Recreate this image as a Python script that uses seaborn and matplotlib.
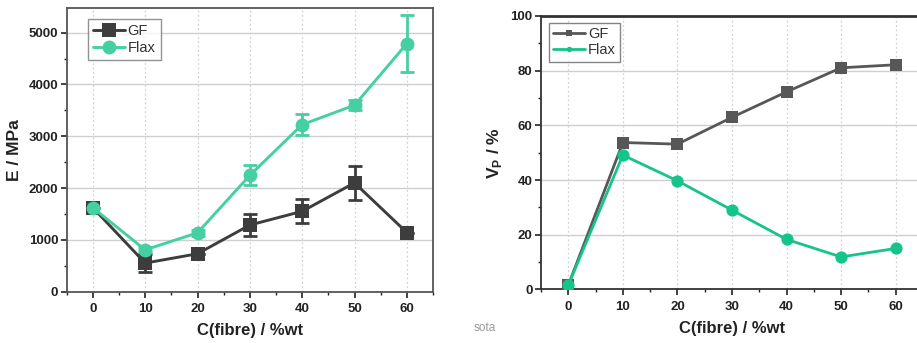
import matplotlib
matplotlib.use("Agg")
import matplotlib.pyplot as plt
from matplotlib.ticker import MultipleLocator
import seaborn as sns
import pandas as pd

# Fibre content (wt %)
fibre = [0, 10, 20, 30, 40, 50, 60]

# Young's modulus (MPa) and standard deviation
e_gf = [1620, 550, 730, 1285, 1550, 2100, 1140]
e_gf_err = [0, 170, 0, 205, 235, 325, 0]
e_flax = [1620, 805, 1135, 2245, 3225, 3600, 4790]
e_flax_err = [0, 50, 60, 195, 205, 100, 550]

# Porosity V_P (%)
vp_gf = [1.6, 53.7, 53.1, 62.9, 72.2, 81.0, 82.1]
vp_flax = [1.6, 49.1, 39.7, 29.0, 18.3, 11.9, 15.0]

series_names = ["GF", "Flax"]

sns.set_theme(style="white")
plt.rcParams["font.family"] = ["Liberation Sans", "DejaVu Sans"]

fig = plt.figure(figsize=(9.17, 3.43), dpi=100)
ax1 = fig.add_axes([0.0727, 0.150, 0.3995, 0.827])
ax2 = fig.add_axes([0.590, 0.156, 0.4165, 0.798])

def style_axes(ax, spine_col, spine_w):
    ax.set_facecolor("white")
    for s in ax.spines.values():
        s.set_color(spine_col)
        s.set_linewidth(spine_w)
        s.set_visible(True)
    ax.grid(False)
    ax.yaxis.grid(True, color="#cfcfcf", linewidth=1.0, linestyle="-")
    ax.xaxis.grid(True, color="#d2d2d2", linewidth=0.9, linestyle=(0, (1.5, 2)))
    ax.set_axisbelow(True)
    ax.tick_params(axis="both", which="major", direction="out", length=4,
                   width=1.2, color="#222222", labelsize=9.5, pad=2)
    ax.tick_params(axis="both", which="minor", direction="out", length=2.5,
                   width=1.0, color="#222222")
    ax.tick_params(axis="x", which="both", bottom=True)
    ax.tick_params(axis="y", which="both", left=True)
    ax.tick_params(axis="x", pad=4)
    for lab in ax.get_xticklabels() + ax.get_yticklabels():
        lab.set_fontweight("bold")
        lab.set_color("#222222")
    ax.xaxis.set_minor_locator(MultipleLocator(5))

# ---------- Modulus panel ----------
df_e = pd.DataFrame({
    "fibre": fibre * 2,
    "E": e_gf + e_flax,
    "err": e_gf_err + e_flax_err,
    "series": ["GF"] * len(fibre) + ["Flax"] * len(fibre),
})
pal1 = {"GF": "#3d3d3d", "Flax": "#45cfa3"}
for name in series_names:
    d = df_e[df_e["series"] == name]
    ax1.errorbar(d["fibre"], d["E"], yerr=d["err"], fmt="none",
                 ecolor=pal1[name], elinewidth=2.0, capsize=5, capthick=2.0,
                 zorder=2)
sns.lineplot(data=df_e, x="fibre", y="E", hue="series", style="series",
             hue_order=series_names, style_order=series_names,
             palette=pal1, markers={"GF": "s", "Flax": "o"}, dashes=False,
             markersize=10, markeredgewidth=0, linewidth=2.1, ax=ax1,
             zorder=3)
ax1.set_xlim(-5, 65)
ax1.set_ylim(0, 5480)
ax1.set_xticks(fibre)
ax1.set_yticks([0, 1000, 2000, 3000, 4000, 5000])
ax1.yaxis.set_minor_locator(MultipleLocator(500))
style_axes(ax1, "#555555", 1.3)
ax1.set_xlabel("C(fibre) / %wt", fontsize=12, fontweight="bold",
               color="#222222", labelpad=6)
ax1.set_ylabel("E / MPa", fontsize=12.5, fontweight="bold",
               color="#222222", labelpad=5)
h, l = ax1.get_legend_handles_labels()
leg1 = ax1.legend(h, l, loc="upper left", bbox_to_anchor=(0.057, 0.96),
                  fontsize=10.5, frameon=True, fancybox=False, handlelength=2.2,
                  handletextpad=0.2, borderpad=0.35, labelspacing=0.2,
                  borderaxespad=0)
leg1.get_frame().set_edgecolor("#777777")
leg1.get_frame().set_linewidth(1.0)
for t in leg1.get_texts():
    t.set_color("#333333")

# ---------- Porosity panel ----------
df_v = pd.DataFrame({
    "fibre": fibre * 2,
    "Vp": vp_gf + vp_flax,
    "series": ["GF"] * len(fibre) + ["Flax"] * len(fibre),
})
pal2 = {"GF": "#575757", "Flax": "#14c48a"}
sns.lineplot(data=df_v, x="fibre", y="Vp", hue="series", style="series",
             hue_order=series_names, style_order=series_names,
             palette=pal2, markers={"GF": "s", "Flax": "o"}, dashes=False,
             markersize=8.8, markeredgewidth=0, linewidth=2.0, ax=ax2,
             zorder=3)
ax2.set_xlim(-5, 65)
ax2.set_ylim(0, 100)
ax2.set_xticks(fibre)
ax2.set_yticks([0, 20, 40, 60, 80, 100])
ax2.yaxis.set_minor_locator(MultipleLocator(10))
style_axes(ax2, "#333333", 1.3)
ax2.spines["top"].set_linewidth(2.0)
ax2.set_xlabel("C(fibre) / %wt", fontsize=12, fontweight="bold",
               color="#222222", labelpad=6)
ax2.set_ylabel("V$_{\\mathregular{P}}$ / %", fontsize=12.5,
               fontweight="bold", color="#222222", labelpad=5)
h, l = ax2.get_legend_handles_labels()
leg2 = ax2.legend(h, l, loc="upper left", bbox_to_anchor=(0.02, 0.975),
                  fontsize=10.5, frameon=True, fancybox=False, handlelength=2.2,
                  handletextpad=0.2, borderpad=0.3, labelspacing=0.15,
                  borderaxespad=0, markerscale=0.45)
leg2.get_frame().set_edgecolor("#666666")
leg2.get_frame().set_linewidth(1.0)
for t in leg2.get_texts():
    t.set_color("#333333")

fig.text(0.516, 0.045, "sota", fontsize=8.5, color="#9a9a9a", ha="left",
         va="center")

fig.savefig("out.png", dpi=100)
